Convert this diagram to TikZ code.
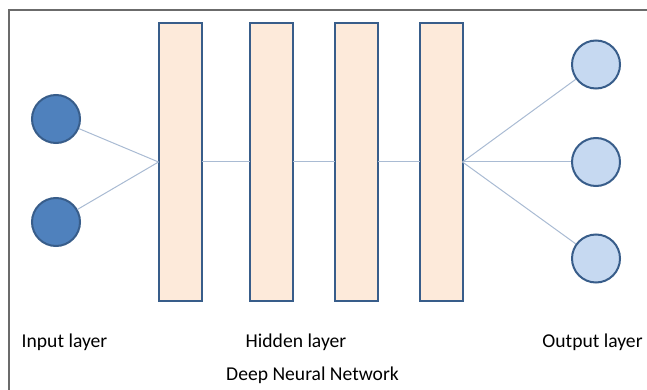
\documentclass[tikz,border=0pt]{standalone}
\usepackage{fontspec}
\setmainfont{Carlito}
\definecolor{frame}{HTML}{6B6B6B}
\definecolor{inblue}{HTML}{4F81BD}
\definecolor{outblue}{HTML}{C6D9F1}
\definecolor{edgeblue}{HTML}{385D8A}
\definecolor{rectfill}{HTML}{FDEADA}
\definecolor{linkc}{HTML}{A9BBD3}
\begin{document}
\begin{tikzpicture}[x=1pt,y=-1pt,
  layerbox/.style={draw=edgeblue,fill=rectfill,line width=2pt,minimum width=43pt,minimum height=278pt,inner sep=0pt,outer sep=0pt},
  inneuron/.style={circle,draw=edgeblue,fill=inblue,line width=2pt,minimum size=48pt,inner sep=0pt},
  outneuron/.style={circle,draw=edgeblue,fill=outblue,line width=2pt,minimum size=48pt,inner sep=0pt},
  link/.style={draw=linkc,line width=1pt},
  lbl/.style={font=\fontsize{19.6}{23}\selectfont,inner sep=0pt,anchor=base}]
\useasboundingbox (0,0) rectangle (647,390);
\draw[frame,line width=1.5pt] (9,390) -- (9,10) -- (647,10);
\node[layerbox] (r1) at (180,162) {};
\node[layerbox] (r2) at (271,162) {};
\node[layerbox] (r3) at (356,162) {};
\node[layerbox] (r4) at (441,162) {};
\node[inneuron] (i1) at (56,119) {};
\node[inneuron] (i2) at (56,222) {};
\node[outneuron] (o1) at (596,64.5) {};
\node[outneuron] (o2) at (596,162) {};
\node[outneuron] (o3) at (596,258.5) {};
\draw[link] (i1) -- (r1.west);
\draw[link] (i2) -- (r1.west);
\draw[link] (r1.east) -- (r2.west);
\draw[link] (r2.east) -- (r3.west);
\draw[link] (r3.east) -- (r4.west);
\draw[link] (r4.east) -- (o1);
\draw[link] (r4.east) -- (o2);
\draw[link] (r4.east) -- (o3);
\node[lbl] (lin) at (64.5,347.5) {Input layer};
\node[lbl] (lhid) at (296,347) {Hidden layer};
\node[lbl] (lout) at (592.5,347.5) {Output layer};
\node[lbl] (ldnn) at (312.5,380.5) {Deep Neural Network};
\end{tikzpicture}
\end{document}
